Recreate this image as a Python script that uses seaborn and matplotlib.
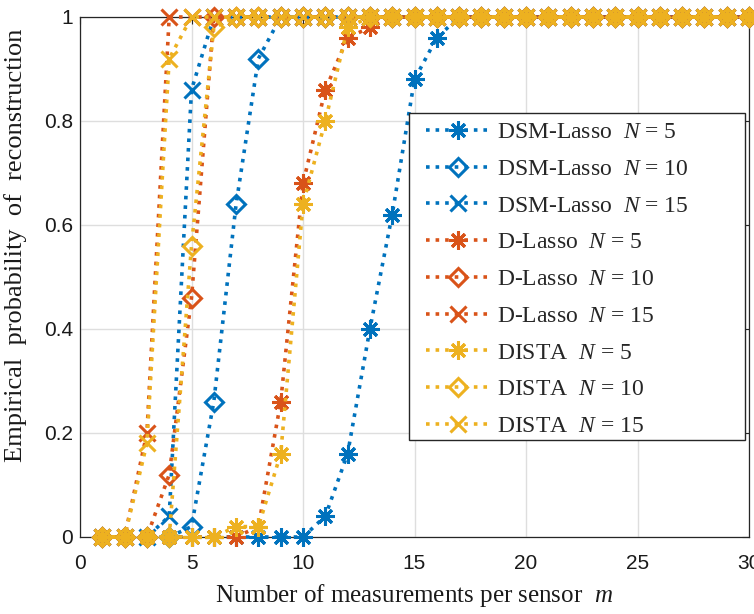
import matplotlib
matplotlib.use("Agg")
import matplotlib.pyplot as plt
from matplotlib.patches import Rectangle
import seaborn as sns

# Number of measurements per sensor
m_values = list(range(1, 31))

# Empirical probability of reconstruction for each method / network size
dsm_lasso_n5 = [0, 0, 0, 0, 0, 0, 0, 0, 0, 0,
                0.04, 0.16, 0.40, 0.62, 0.88, 0.96, 1, 1, 1, 1,
                1, 1, 1, 1, 1, 1, 1, 1, 1, 1]
dsm_lasso_n10 = [0, 0, 0, 0, 0.02, 0.26, 0.64, 0.92, 1, 1,
                 1, 1, 1, 1, 1, 1, 1, 1, 1, 1,
                 1, 1, 1, 1, 1, 1, 1, 1, 1, 1]
dsm_lasso_n15 = [0, 0, 0, 0.04, 0.86, 1, 1, 1, 1, 1,
                 1, 1, 1, 1, 1, 1, 1, 1, 1, 1,
                 1, 1, 1, 1, 1, 1, 1, 1, 1, 1]
d_lasso_n5 = [0, 0, 0, 0, 0, 0, 0, 0.02, 0.26, 0.68,
              0.86, 0.96, 0.98, 1, 1, 1, 1, 1, 1, 1,
              1, 1, 1, 1, 1, 1, 1, 1, 1, 1]
d_lasso_n10 = [0, 0, 0, 0.12, 0.46, 1, 1, 1, 1, 1,
               1, 1, 1, 1, 1, 1, 1, 1, 1, 1,
               1, 1, 1, 1, 1, 1, 1, 1, 1, 1]
d_lasso_n15 = [0, 0, 0.20, 1, 1, 1, 1, 1, 1, 1,
               1, 1, 1, 1, 1, 1, 1, 1, 1, 1,
               1, 1, 1, 1, 1, 1, 1, 1, 1, 1]
dista_n5 = [0, 0, 0, 0, 0, 0, 0.02, 0.02, 0.16, 0.64,
            0.80, 0.98, 1, 1, 1, 1, 1, 1, 1, 1,
            1, 1, 1, 1, 1, 1, 1, 1, 1, 1]
dista_n10 = [0, 0, 0, 0, 0.56, 0.98, 1, 1, 1, 1,
             1, 1, 1, 1, 1, 1, 1, 1, 1, 1,
             1, 1, 1, 1, 1, 1, 1, 1, 1, 1]
dista_n15 = [0, 0, 0.18, 0.92, 1, 1, 1, 1, 1, 1,
             1, 1, 1, 1, 1, 1, 1, 1, 1, 1,
             1, 1, 1, 1, 1, 1, 1, 1, 1, 1]

series_labels = [
    r"DSM-Lasso  $N$ = 5", r"DSM-Lasso  $N$ = 10", r"DSM-Lasso  $N$ = 15",
    r"D-Lasso  $N$ = 5", r"D-Lasso  $N$ = 10", r"D-Lasso  $N$ = 15",
    r"DISTA  $N$ = 5", r"DISTA  $N$ = 10", r"DISTA  $N$ = 15",
]
series_values = [dsm_lasso_n5, dsm_lasso_n10, dsm_lasso_n15,
                 d_lasso_n5, d_lasso_n10, d_lasso_n15,
                 dista_n5, dista_n10, dista_n15]

x_ticks = [0, 5, 10, 15, 20, 25, 30]
y_ticks = [0, 0.2, 0.4, 0.6, 0.8, 1]
y_tick_labels = ["0", "0.2", "0.4", "0.6", "0.8", "1"]

sns.set_theme(style="white")
plt.rcParams["font.family"] = ["Liberation Sans", "DejaVu Sans"]
plt.rcParams["mathtext.fontset"] = "custom"
plt.rcParams["mathtext.rm"] = "Liberation Serif"
plt.rcParams["mathtext.it"] = "Liberation Serif:italic"

blue, orange, yellow = "#0072BD", "#D95319", "#EDB120"
colors = [blue] * 3 + [orange] * 3 + [yellow] * 3
asterisk = (8, 2, 0)
markers = [asterisk, "D", "x"] * 3
sizes = [13, 9, 11] * 3

fig = plt.figure(figsize=(7.54, 6.14), dpi=100)
ax = fig.add_axes([80 / 754, 77 / 614, 669 / 754, 520 / 614])

for vals, lab, col, mk, ms in zip(series_values, series_labels, colors, markers, sizes):
    face = "none" if mk == "D" else col
    sns.lineplot(x=m_values, y=vals, ax=ax, color=col, linestyle=":", linewidth=2.6,
                 marker=mk, markersize=ms, markeredgewidth=2.2, markeredgecolor=col,
                 markerfacecolor=face, label=lab, clip_on=False, zorder=3)

ax.set_xlim(0, 30)
ax.set_ylim(0, 1)
ax.set_xticks(x_ticks)
ax.set_yticks(y_ticks)
ax.set_yticklabels(y_tick_labels)
ax.tick_params(direction="in", length=5, width=0.8, labelsize=15, colors="#262626",
               labelcolor="#1a1a1a", top=True, right=True)
ax.tick_params(axis="x", pad=12)
ax.tick_params(axis="y", pad=5)
ax.grid(True, color="#dedede", linewidth=1.0)
ax.set_axisbelow(True)
for sp in ax.spines.values():
    sp.set_color("#262626")
    sp.set_linewidth(0.9)
    sp.set_visible(True)

serif = ["Liberation Serif", "DejaVu Serif"]
ax.set_xlabel(r"Number of measurements per sensor  $m$", family=serif, fontsize=18,
              color="#1a1a1a", labelpad=7)
ax.set_ylabel("Empirical  probability  of  reconstruction", family=serif, fontsize=19,
              color="#1a1a1a")
ax.yaxis.set_label_coords(-0.079, 0.56)

# Legend box: white panel with a thin dark border, entries placed inside it
legend_panel = Rectangle((0.4918, 0.1865), 0.5022, 0.6288, transform=ax.transAxes,
                         facecolor="white", edgecolor="#262626", linewidth=1.0,
                         zorder=4, clip_on=False)
ax.add_patch(legend_panel)
leg = ax.legend(loc="upper left", bbox_to_anchor=(0.5172, 0.7988), borderaxespad=0,
                prop={"family": serif, "size": 17}, frameon=False,
                handlelength=2.7, handletextpad=0.3, borderpad=0.0, labelspacing=0.645)
leg.set_zorder(5)

fig.savefig("out.png", dpi=100)
